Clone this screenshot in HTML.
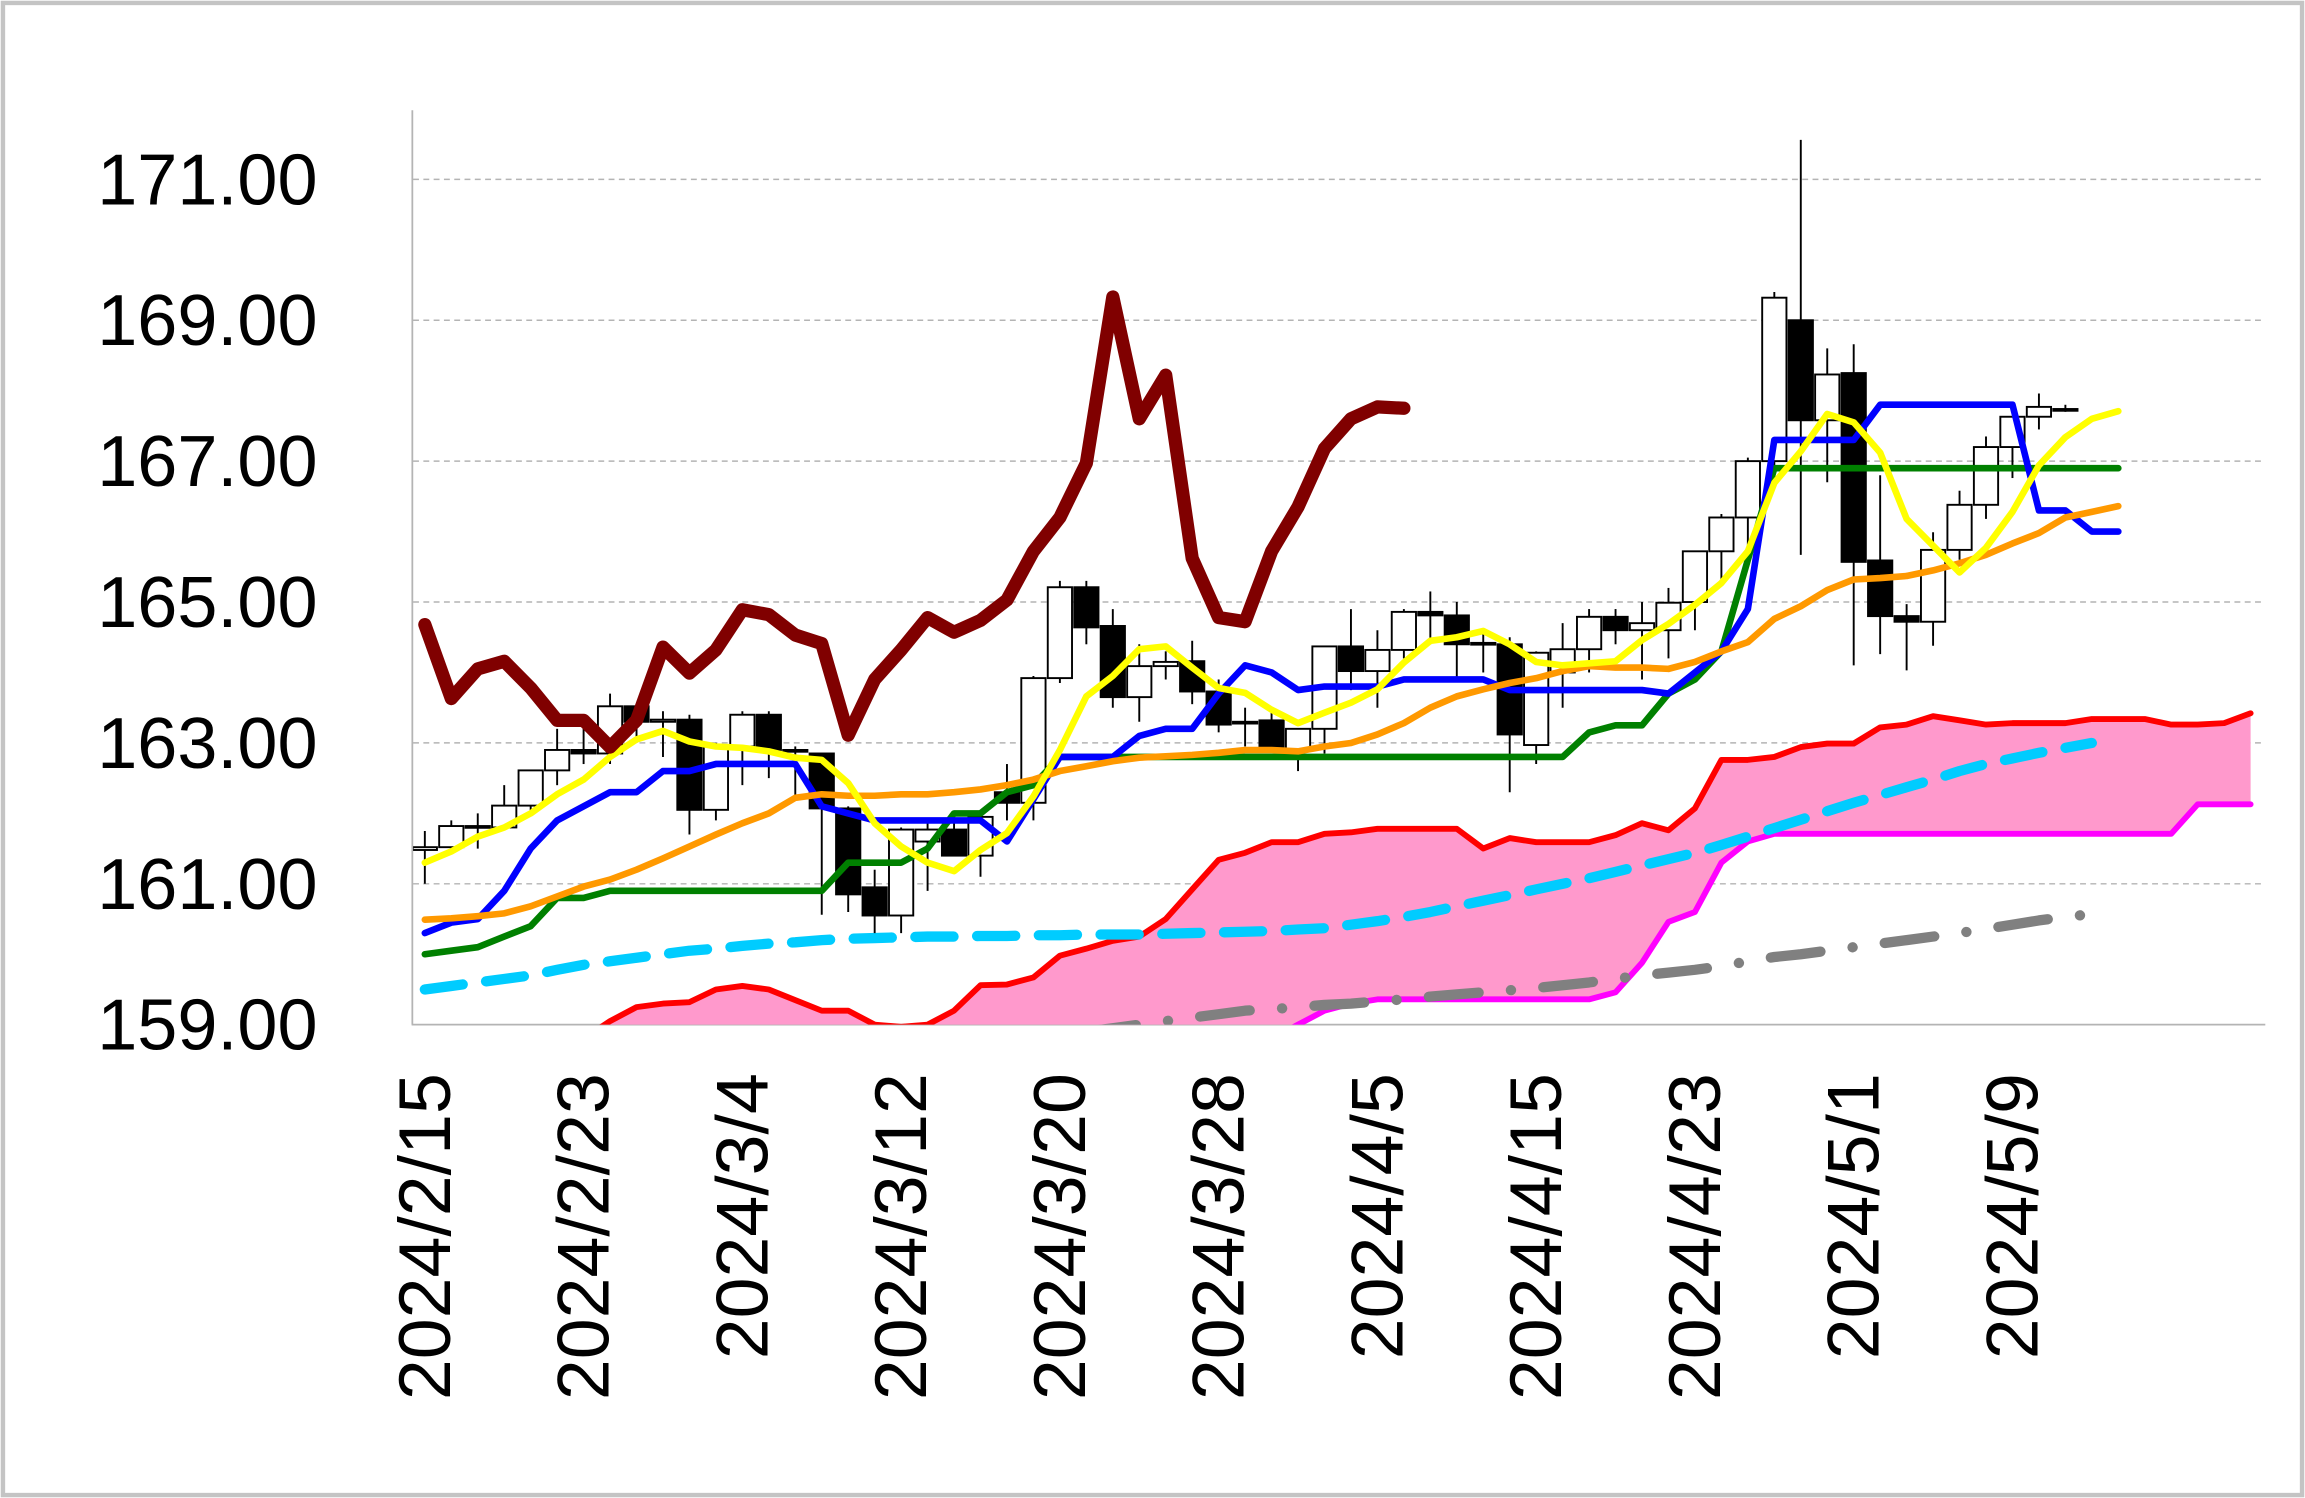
<!DOCTYPE html>
<html><head><meta charset="utf-8"><style>
html,body{margin:0;padding:0;background:#fff;}
svg{display:block;}
text{font-family:"Liberation Sans",sans-serif;fill:#000;}
</style></head><body>
<svg id="chart" width="2305" height="1498" viewBox="0 0 1568 1019" preserveAspectRatio="none" xmlns="http://www.w3.org/2000/svg">
<rect x="2" y="2" width="1564" height="1015" fill="#fff" stroke="#c4c4c4" stroke-width="3"/>
<defs><clipPath id="plotclip"><rect x="281" y="60" width="1260" height="637"/></clipPath></defs>
<g id="grid"></g>
<g id="axes"></g>
<g id="plot" clip-path="url(#plotclip)"></g>
<g id="labels"></g>
</svg>
<script>
const xLabels=["2024/2/15","2024/2/23","2024/3/4","2024/3/12","2024/3/20","2024/3/28","2024/4/5","2024/4/15","2024/4/23","2024/5/1","2024/5/9"];
const xLabelIdx=[0,6,12,18,24,30,36,42,48,54,60];
const yTicks=[159,161,163,165,167,169,171];
const opens=[161.48,161.52,161.82,161.8,162.11,162.61,162.9,162.85,163.52,163.3,163.33,162.05,162.95,163.4,162.9,162.85,162.07,160.95,160.55,161.6,161.77,161.4,162.3,162.15,163.92,165.21,164.66,163.65,164.09,164.16,163.73,163.28,163.32,162.9,163.2,164.37,164.02,164.32,164.86,164.81,164.4,164.4,162.97,164.0,164.33,164.79,164.6,164.6,165.0,165.72,166.2,167.0,169.0,167.58,168.25,165.59,164.8,164.72,165.74,166.38,167.2,167.63,167.74];
const highs=[161.75,161.9,162.0,162.4,162.62,163.2,163.2,163.7,163.55,163.45,163.4,163.0,163.45,163.45,162.95,162.85,162.1,161.2,161.8,161.9,161.9,162.0,162.7,163.95,165.3,165.3,164.9,164.4,164.3,164.45,163.9,163.5,163.45,163.2,164.37,164.9,164.6,164.9,165.15,165.0,164.6,164.5,164.3,164.7,164.9,164.9,165.0,165.2,165.72,166.25,167.05,169.4,171.56,168.6,168.66,166.8,164.97,165.99,166.58,167.35,167.3,167.96,167.8];
const lows=[161.0,161.5,161.5,161.8,162.0,162.4,162.7,162.7,163.0,162.8,161.7,161.9,162.4,162.5,162.2,160.56,160.6,160.3,160.3,160.9,161.5,161.1,161.9,161.9,163.85,164.4,163.5,163.3,163.9,163.55,163.15,162.95,162.9,162.6,162.85,163.75,163.5,164.2,164.4,163.9,164.0,162.3,162.7,163.5,164.0,164.4,163.9,164.2,164.6,165.3,165.7,166.7,165.67,166.7,164.1,164.26,164.03,164.38,165.6,166.18,166.76,167.45,167.7];
const closes=[161.52,161.82,161.8,162.11,162.61,162.9,162.85,163.52,163.3,163.33,162.05,162.95,163.4,162.9,162.88,162.07,160.85,160.55,161.77,161.77,161.4,161.95,162.15,163.92,165.21,164.64,163.65,164.09,164.15,163.73,163.26,163.3,162.9,163.2,164.37,164.02,164.32,164.86,164.81,164.4,164.42,163.12,164.28,164.33,164.79,164.6,164.7,164.99,165.72,166.2,167.0,169.32,167.58,168.23,165.57,164.8,164.72,165.74,166.38,167.2,167.63,167.77,167.74];
const tenkan=[160.3,160.45,160.5,160.9,161.5,161.9,162.1,162.3,162.3,162.6,162.6,162.7,162.7,162.7,162.7,162.1,162.0,161.9,161.9,161.9,161.9,161.9,161.6,162.2,162.8,162.8,162.8,163.1,163.2,163.2,163.7,164.1,164.0,163.75,163.8,163.8,163.8,163.9,163.9,163.9,163.9,163.75,163.75,163.75,163.75,163.75,163.75,163.7,164.0,164.3,164.9,167.3,167.3,167.3,167.3,167.8,167.8,167.8,167.8,167.8,167.8,166.3,166.3,166.0,166.0];
const kijun=[160.0,160.05,160.1,160.25,160.4,160.8,160.8,160.9,160.9,160.9,160.9,160.9,160.9,160.9,160.9,160.9,161.3,161.3,161.3,161.5,162.0,162.0,162.3,162.4,162.8,162.8,162.8,162.8,162.8,162.8,162.8,162.8,162.8,162.8,162.8,162.8,162.8,162.8,162.8,162.8,162.8,162.8,162.8,162.8,163.15,163.25,163.25,163.7,163.9,164.3,165.6,166.9,166.9,166.9,166.9,166.9,166.9,166.9,166.9,166.9,166.9,166.9,166.9,166.9,166.9];
const ma5=[161.3,161.46,161.67,161.8,162.0,162.27,162.48,162.8,163.05,163.17,163.02,162.95,162.93,162.88,162.79,162.76,162.43,161.86,161.53,161.3,161.18,161.48,161.72,162.24,162.9,163.66,163.95,164.33,164.37,164.07,163.78,163.71,163.47,163.28,163.43,163.57,163.76,164.14,164.45,164.5,164.59,164.4,164.15,164.1,164.13,164.16,164.46,164.69,164.96,165.27,165.72,166.69,167.14,167.67,167.55,167.12,166.18,165.8,165.42,165.77,166.28,166.94,167.34,167.6,167.71];
const ma25=[160.49,160.51,160.54,160.58,160.68,160.82,160.96,161.06,161.2,161.36,161.53,161.7,161.86,162.0,162.22,162.27,162.25,162.25,162.27,162.27,162.3,162.34,162.4,162.48,162.6,162.67,162.74,162.79,162.81,162.83,162.86,162.9,162.9,162.88,162.95,163.0,163.12,163.28,163.5,163.66,163.76,163.85,163.92,164.02,164.09,164.07,164.07,164.05,164.15,164.3,164.43,164.76,164.94,165.17,165.32,165.34,165.37,165.45,165.55,165.67,165.83,165.98,166.2,166.28,166.36];
const chikou=[164.68,163.63,164.05,164.16,163.78,163.32,163.32,162.94,163.32,164.36,163.99,164.32,164.89,164.82,164.53,164.41,163.11,163.9,164.32,164.78,164.57,164.74,165.03,165.72,166.2,166.97,169.33,167.6,168.22,165.62,164.78,164.72,165.72,166.35,167.18,167.6,167.77,167.75];
const ma75=[159.5,159.55,159.6,159.65,159.7,159.78,159.85,159.9,159.95,160.0,160.05,160.08,160.12,160.15,160.17,160.2,160.22,160.23,160.24,160.25,160.25,160.26,160.26,160.27,160.27,160.28,160.28,160.28,160.29,160.3,160.31,160.32,160.33,160.35,160.37,160.42,160.47,160.53,160.6,160.68,160.76,160.84,160.92,161.0,161.08,161.17,161.26,161.35,161.44,161.55,161.67,161.79,161.91,162.03,162.15,162.26,162.37,162.48,162.6,162.7,162.78,162.86,162.93,163.0];
const ma200=[null,null,null,null,null,null,null,null,null,null,null,null,null,null,null,null,null,null,null,null,null,null,null,null,null,158.9,158.95,159.0,159.05,159.1,159.15,159.2,159.22,159.25,159.28,159.3,159.33,159.36,159.4,159.43,159.46,159.49,159.52,159.56,159.6,159.65,159.7,159.74,159.78,159.83,159.9,159.96,160.0,160.05,160.1,160.15,160.2,160.25,160.3,160.36,160.42,160.48,160.53,160.57];
const spanA=[158.0,158.1,158.2,158.3,158.4,158.6,158.8,159.05,159.25,159.3,159.32,159.5,159.55,159.5,159.35,159.2,159.2,159.0,158.97,159.0,159.2,159.56,159.57,159.67,159.98,160.08,160.19,160.25,160.5,160.92,161.34,161.44,161.59,161.59,161.71,161.73,161.78,161.78,161.78,161.78,161.5,161.65,161.59,161.59,161.59,161.69,161.86,161.76,162.07,162.76,162.76,162.8,162.94,162.99,162.99,163.22,163.26,163.38,163.32,163.26,163.28,163.28,163.28,163.34,163.34,163.34,163.26,163.26,163.28,163.42];
const spanB=[158.0,158.0,158.0,158.0,158.0,158.0,158.0,158.0,158.0,158.0,158.0,158.0,158.0,158.0,158.0,158.0,158.0,158.0,158.0,158.0,158.0,158.0,158.0,158.0,158.0,158.0,158.0,158.0,158.0,158.0,158.0,158.0,158.8,159.0,159.2,159.3,159.36,159.36,159.36,159.36,159.36,159.36,159.36,159.36,159.36,159.46,159.88,160.46,160.6,161.3,161.6,161.71,161.71,161.71,161.71,161.71,161.71,161.71,161.71,161.71,161.71,161.71,161.71,161.71,161.71,161.71,161.71,162.13,162.13,162.13];

const NS="http://www.w3.org/2000/svg";
const X0=289, DX=18.0;
function xs(i){return X0+DX*i;}
function ys(v){return 122+(171-v)*47.92;}
function mk(tag,attrs,parent){const e=document.createElementNS(NS,tag);for(const k in attrs)e.setAttribute(k,attrs[k]);parent.appendChild(e);return e;}
const grid=document.getElementById('grid'),axes=document.getElementById('axes'),plot=document.getElementById('plot'),labels=document.getElementById('labels');

yTicks.forEach(t=>{
  if(t>159){const g=mk('line',{x1:281,x2:1541,y1:ys(t),y2:ys(t),stroke:'#b4b4b4','stroke-width':1,'stroke-dasharray':'4,3'},grid);
  
  }
  const tx=mk('text',{x:216,y:ys(t)+17,'text-anchor':'end','font-size':49},labels);
  tx.textContent=t.toFixed(2);
  
  
});
const ya=mk('line',{x1:280.5,x2:280.5,y1:75,y2:697,stroke:'#b4b4b4','stroke-width':1.2},axes);


const xa=mk('line',{x1:280,x2:1541,y1:697,y2:697,stroke:'#b4b4b4','stroke-width':1.2},axes);


xLabels.forEach((l,k)=>{
  const x=xs(xLabelIdx[k])+17;
  const tx=mk('text',{x:0,y:0,'text-anchor':'end','font-size':50,transform:`translate(${x},730) rotate(-90)`},labels);
  tx.textContent=l;
  
  
});

let pts=[];
spanA.forEach((v,i)=>pts.push(xs(i)+','+ys(v)));
for(let i=spanB.length-1;i>=0;i--)pts.push(xs(i)+','+ys(spanB[i]));
const cloud=mk('polygon',{points:pts.join(' '),fill:'#ff99cc',stroke:'none'},plot);



function line(arr,color,w,name,dash){
  let d='',pen=false;
  arr.forEach((v,i)=>{if(v==null){pen=false;return;}d+=(pen?'L':'M')+xs(i).toFixed(1)+','+ys(v).toFixed(1)+' ';pen=true;});
  const a={d:d,fill:'none',stroke:color,'stroke-width':w,'stroke-linejoin':'round','stroke-linecap':'round'};
  if(dash)a['stroke-dasharray']=dash;
  const p=mk('path',a,plot);
  
  
  return p;
}
line(spanA,'#ff0000',4,'senkou-span-a-line');
line(spanB,'#ff00ff',4,'senkou-span-b-line');
line(ma75,'#00ccff',7,'ma75-line','26,16');
line(ma200,'#808080',7,'ma200-line','34,22,0.1,22');

opens.forEach((o,i)=>{
  const c=closes[i],x=xs(i),w=16.5;
  const wk=mk('line',{x1:x,x2:x,y1:ys(highs[i]),y2:ys(lows[i]),stroke:'#000','stroke-width':1.3},plot);
  
  
  const top=ys(Math.max(o,c)),bot=ys(Math.min(o,c));
  const b=mk('rect',{x:x-w/2,y:top,width:w,height:Math.max(bot-top,1.2),fill:c>=o?'#fff':'#000',stroke:'#000','stroke-width':1.3},plot);
  
  
});

line(kijun,'#008000',4.5,'kijun-sen-line');
line(tenkan,'#0000ff',4.5,'tenkan-sen-line');
line(ma25,'#ff9900',4.5,'ma25-line');
line(ma5,'#ffff00',4.5,'ma5-line');
line(chikou,'#800000',9,'chikou-span-line');
</script>
</body></html>
